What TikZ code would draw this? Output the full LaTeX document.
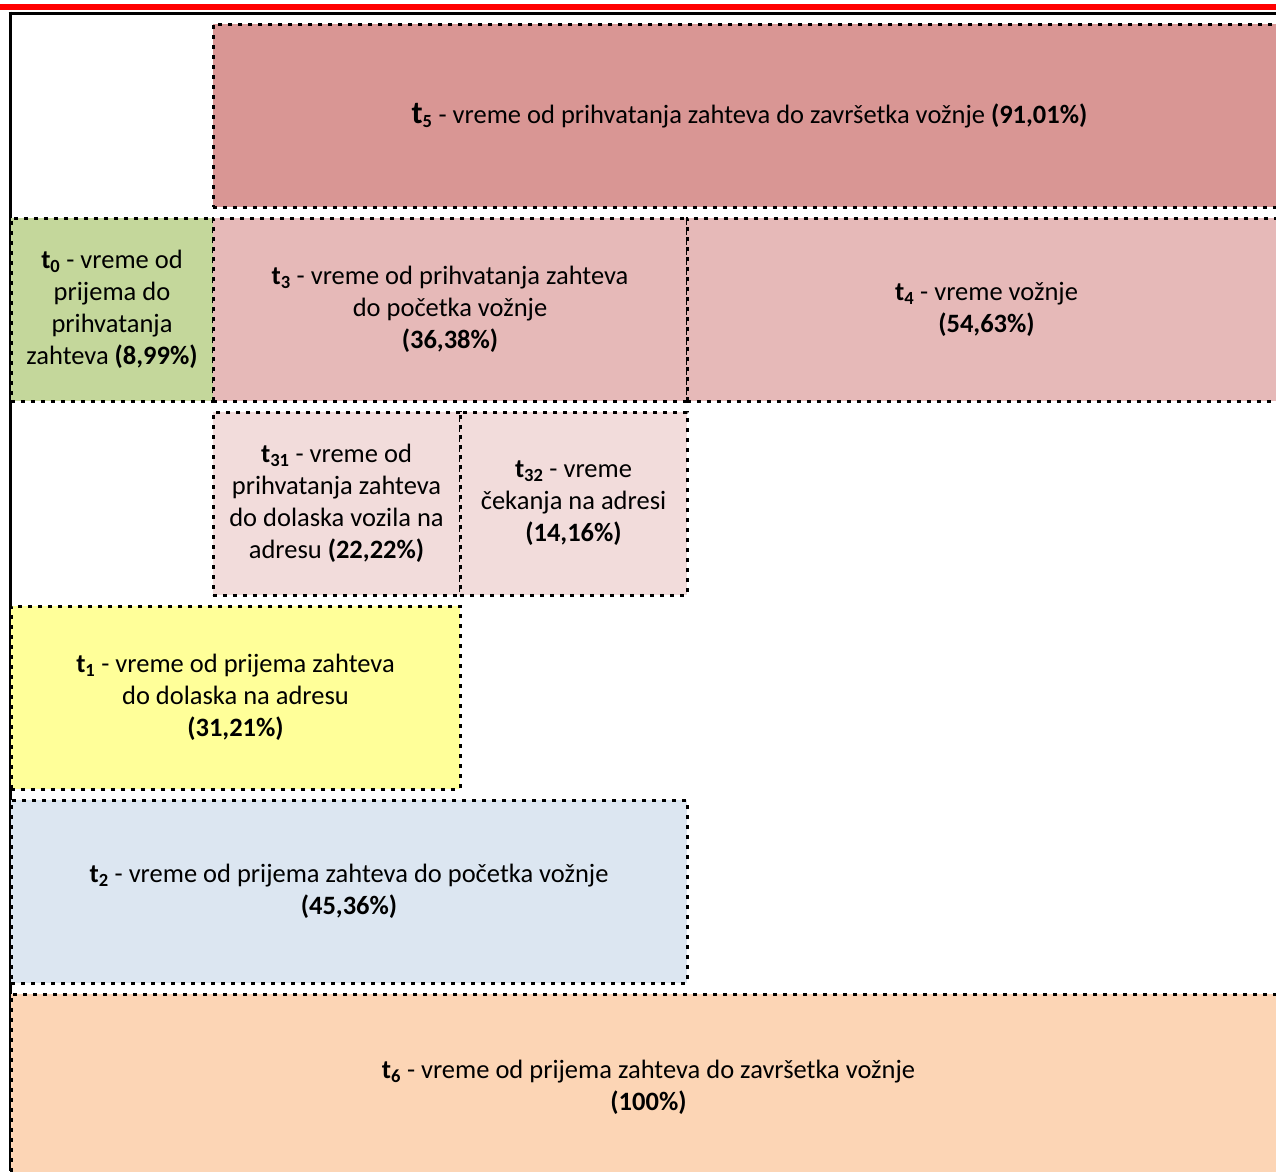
\documentclass[tikz,border=0pt]{standalone}
\usepackage{fontspec}
\setmainfont{Carlito}
\definecolor{colTfive}{HTML}{D99694}
\definecolor{colTthree}{HTML}{E6B9B8}
\definecolor{colTsub}{HTML}{F2DCDB}
\definecolor{colTzero}{HTML}{C4D79B}
\definecolor{colTone}{HTML}{FFFF99}
\definecolor{colTtwo}{HTML}{DCE6F1}
\definecolor{colTsix}{HTML}{FCD5B5}
\newcommand{\tlab}[1]{\textbf{t\textsubscript{#1}}}
\begin{document}
\begin{tikzpicture}[x=1pt, y=-1pt,
    tbox/.style={draw=black, line width=3pt, dash pattern=on 4pt off 6pt,
      inner sep=0pt, outer sep=0pt, anchor=north west, align=center,
      font=\fontsize{26.5}{32}\selectfont}]
  \useasboundingbox (0,0) rectangle (1276,1171);
  \clip (0,0) rectangle (1276,1171);
  % frame
  \fill[red] (0,3.5) rectangle (1276,9.5);
  \draw[line width=3pt] (8.5,13) -- (1276,13);
  \draw[line width=3pt] (10,11.5) -- (10,1171);
  % top row
  \node[tbox, fill=colTfive, minimum width=1073pt, minimum height=183pt] (t5) at (213,24)
    {\rule{0pt}{8pt}{\fontsize{32}{32}\selectfont\textbf{t}}\textbf{\textsubscript{5}} - vreme od prihvatanja zahteva do završetka vožnje \textbf{(91,01\%)}};
  % second row
  \node[tbox, fill=colTzero, minimum width=202pt, minimum height=183pt] (t0) at (11,218)
    {\tlab{0} - vreme od\\ prijema do\\ prihvatanja\\ zahteva \textbf{(8,99\%)}};
  \node[tbox, fill=colTthree, minimum width=474pt, minimum height=183pt] (t3) at (213,218)
    {\tlab{3} - vreme od prihvatanja zahteva\\ do početka vožnje\\ \textbf{(36,38\%)}};
  \node[tbox, fill=colTthree, minimum width=599pt, minimum height=183pt] (t4) at (687,218)
    {\tlab{4} - vreme vožnje\\ \textbf{(54,63\%)}};
  % third row
  \node[tbox, fill=colTsub, minimum width=247pt, minimum height=183pt] (t31) at (213,412)
    {\tlab{31} - vreme od\\ prihvatanja zahteva\\ do dolaska vozila na\\ adresu \textbf{(22,22\%)}};
  \node[tbox, fill=colTsub, minimum width=227pt, minimum height=183pt] (t32) at (460,412)
    {\tlab{32} - vreme\\ čekanja na adresi\\ \textbf{(14,16\%)}};
  % lower rows
  \node[tbox, fill=colTone, minimum width=449pt, minimum height=183pt] (t1) at (11,606)
    {\tlab{1} - vreme od prijema zahteva\\ do dolaska na adresu\\ \textbf{(31,21\%)}};
  \node[tbox, fill=colTtwo, minimum width=676pt, minimum height=183pt] (t2) at (11,800)
    {\tlab{2} - vreme od prijema zahteva do početka vožnje\\ \textbf{(45,36\%)}};
  \node[tbox, fill=colTsix, minimum width=1275pt, minimum height=186pt] (t6) at (11,994)
    {\tlab{6} - vreme od prijema zahteva do završetka vožnje\\ \textbf{(100\%)}};
\end{tikzpicture}
\end{document}
